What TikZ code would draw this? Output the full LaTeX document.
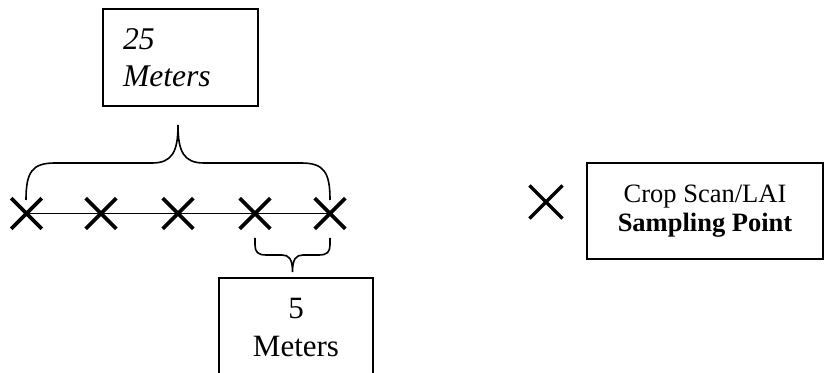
\documentclass[tikz,border=0pt]{standalone}
\usepackage{fontspec}
\setmainfont{Liberation Serif}
\usetikzlibrary{shapes.misc}
\begin{document}
\begin{tikzpicture}[x=0.5pt,y=-0.5pt,
  box/.style={draw, line width=0.8pt, inner sep=0pt},
  xmark/.style={cross out, draw, line width=1.8pt, minimum size=13.5pt, inner sep=0pt},
  brace/.style={line width=0.8pt},
  track/.style={line width=0.8pt}]
\useasboundingbox (0,0) rectangle (824,373);
\clip (0,0) rectangle (824,373);
% top box
\node[box, minimum width=77.5pt, minimum height=48.5pt, inner xsep=10pt, text width=57.5pt, align=left,
  font=\fontsize{15.8}{18.5}\selectfont\itshape] (top) at (180.5,57.5) {25\\Meters};
% sampling points
\node[xmark] (c1) at (26.5,213.5) {};
\node[xmark] (c2) at (101,213.5) {};
\node[xmark] (c3) at (178,213.5) {};
\node[xmark] (c4) at (255,213.5) {};
\node[xmark] (c5) at (330,213.5) {};
\draw[track] (c1.center) -- (c5.center);
% big brace
\coordinate (bl) at (26,200);
\coordinate (br) at (330,200);
\coordinate (bt) at (178,125);
\draw[brace] (bl) .. controls (26,172) and (32,163) .. (55,163) -- (152,163)
  .. controls (172,163) and (178,152) .. (bt)
  .. controls (178,152) and (184,163) .. (204,163) -- (301,163)
  .. controls (324,163) and (330,172) .. (br);
% small brace
\coordinate (sl) at (255,238);
\coordinate (sr) at (330,238);
\coordinate (st) at (292.5,272);
\draw[brace] (sl) -- (255,245) .. controls (255,252) and (258,255) .. (266,255) -- (282,255)
  .. controls (289,255) and (292.5,259) .. (st)
  .. controls (292.5,259) and (296,255) .. (303,255) -- (319,255)
  .. controls (327,255) and (330,252) .. (330,245) -- (sr);
% bottom box
\node[box, minimum width=77pt, minimum height=50pt, align=center,
  font=\fontsize{15.5}{19}\selectfont] (bot) at (296,328) {5\\Meters};
% legend
\node[xmark, minimum size=15pt, line width=1.6pt] (lx) at (546,202) {};
\node[box, minimum width=118pt, minimum height=48pt, align=center,
  font=\fontsize{13.25}{14.5}\selectfont] (leg) at (705,211) {Crop Scan/LAI\\\textbf{Sampling Point}};
\end{tikzpicture}
\end{document}
